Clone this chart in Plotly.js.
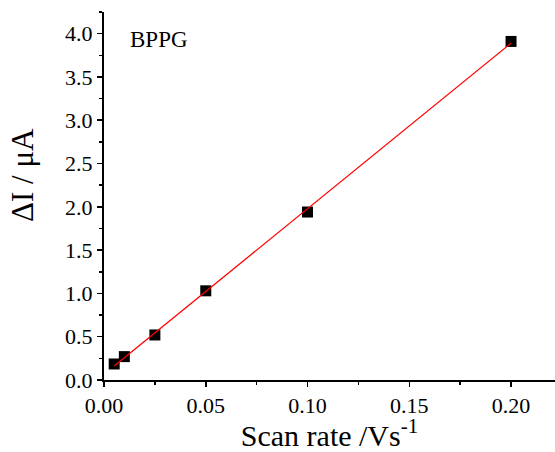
<!DOCTYPE html>
<html>
<head>
<meta charset="utf-8">
<script src="https://cdn.plot.ly/plotly-3.0.1.min.js"></script>
<style>html,body{margin:0;padding:0;background:#fff;}#chart{width:555px;height:452px;}</style>
</head>
<body>
<div id="chart"></div>
<script>
// Data
const scanRate = [0.005, 0.01, 0.025, 0.05, 0.1, 0.2];
const deltaI = [0.185, 0.27, 0.52, 1.03, 1.94, 3.91];
const fitX = [0.005, 0.2];
const fitY = [0.162, 3.89];
const sampleLabel = 'BPPG';
const xTitle = 'Scan rate /Vs<sup>-1</sup>';
const yTitle = 'ΔI / μA';

const FONT = 'Liberation Serif, Times New Roman, serif';

const traces = [
  {x: scanRate, y: deltaI, type: 'scatter', mode: 'markers',
   marker: {symbol: 'square', size: 11, color: '#000'}, hoverinfo: 'none'},
  {x: fitX, y: fitY, type: 'scatter', mode: 'lines',
   line: {color: '#ff0000', width: 1.3}, hoverinfo: 'none'}
];

const layout = {
  width: 555, height: 452,
  margin: {l: 104, r: 0, t: 12, b: 72},
  paper_bgcolor: '#fff', plot_bgcolor: '#fff',
  showlegend: false,
  font: {family: FONT, color: '#000', size: 22},
  xaxis: {
    range: [0, 0.2216], showgrid: false, zeroline: false,
    showline: true, linecolor: '#000', linewidth: 2,
    ticks: 'outside', ticklen: 5, tickwidth: 1.5, tickcolor: '#000',
    dtick: 0.05, tick0: 0, tickformat: '.2f',
    tickfont: {family: FONT, size: 22, color: '#000'},
    minor: {ticks: 'outside', ticklen: 3, tickwidth: 1.5, tickcolor: '#000', dtick: 0.025, showgrid: false},
    title: {text: xTitle, font: {family: FONT, size: 30, color: '#000'}, standoff: 4}
  },
  yaxis: {
    range: [0, 4.25], showgrid: false, zeroline: false,
    showline: true, linecolor: '#000', linewidth: 2,
    ticks: 'outside', ticklen: 5, tickwidth: 1.5, tickcolor: '#000',
    dtick: 0.5, tick0: 0, tickformat: '.1f',
    tickfont: {family: FONT, size: 22, color: '#000'},
    minor: {ticks: 'outside', ticklen: 3, tickwidth: 1.5, tickcolor: '#000', dtick: 0.25, showgrid: false}
  },
  annotations: [
    {text: sampleLabel, xref: 'paper', yref: 'paper', x: 0.054, y: 0.926,
     xanchor: 'left', yanchor: 'middle', showarrow: false,
     font: {family: FONT, size: 23, color: '#000'}},
    {text: yTitle, xref: 'paper', yref: 'paper', x: -0.182, y: 0.557,
     xanchor: 'center', yanchor: 'middle', textangle: -90, showarrow: false,
     font: {family: FONT, size: 31, color: '#000'}}
  ]
};

Plotly.newPlot('chart', traces, layout, {staticPlot: true, displayModeBar: false});
</script>
</body>
</html>
